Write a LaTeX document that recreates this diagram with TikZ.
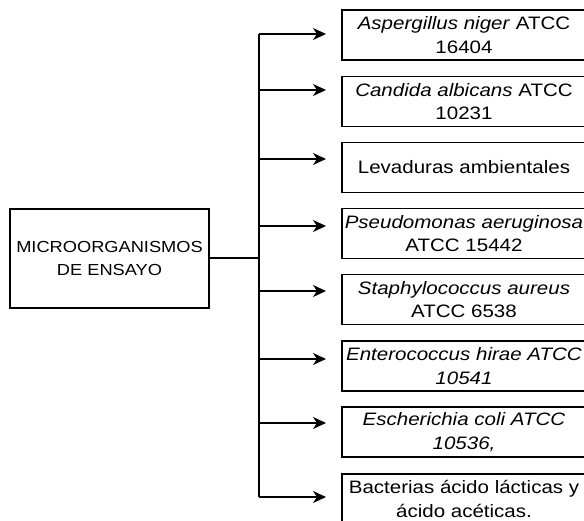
\documentclass[tikz,border=0pt]{standalone}
\usepackage{fontspec}
\setmainfont{Liberation Sans}[FakeStretch=1.14]
\usetikzlibrary{arrows.meta}
\begin{document}
\begin{tikzpicture}[x=1pt,y=-1pt,
  line width=1.4pt,
  box/.style={draw, line width=1.3pt, minimum width=244pt, minimum height=50pt, inner sep=0pt, align=center, font=\fontsize{18}{23.5}\selectfont},
  mainbox/.style={draw, line width=1.3pt, minimum width=199pt, minimum height=99pt, inner sep=0pt, align=center, font=\fontsize{16}{23.5}\selectfont},
  arr/.style={-{Stealth[length=13pt,width=12pt,inset=4pt]}}
]
\useasboundingbox (0,0) rectangle (584,520);
\node[mainbox] (main) at (109.5,258.5) {MICROORGANISMOS\\DE ENSAYO};
\node[box] (b1) at (464,35) {\textit{Aspergillus niger} ATCC\\16404};
\node[box] (b2) at (464,101.5) {\textit{Candida albicans} ATCC\\10231};
\node[box] (b3) at (464,167.5) {Levaduras ambientales};
\node[box] (b4) at (464,233.5) {\textit{Pseudomonas aeruginosa}\\ATCC 15442};
\node[box] (b5) at (464,299.5) {\textit{Staphylococcus aureus}\\ATCC 6538};
\node[box] (b6) at (464,366) {\textit{Enterococcus hirae ATCC}\\\textit{10541}};
\node[box] (b7) at (464,432) {\textit{Escherichia coli ATCC}\\\textit{10536,}};
\node[box] (b8) at (464,499) {Bacterias ácido lácticas y\\ácido acéticas.};
\coordinate (tm) at (259,258);
\foreach \i/\y in {1/34,2/90,3/159,4/226,5/291,6/359,7/423,8/497}{
  \coordinate (t\i) at (259,\y);
  \coordinate (a\i) at (326,\y);
}
\draw (main.east |- tm) -- (tm);
\draw (t1) -- (t8);
\foreach \i in {1,...,8}{
  \draw[arr] (t\i) -- (a\i);
}
\end{tikzpicture}
\end{document}
